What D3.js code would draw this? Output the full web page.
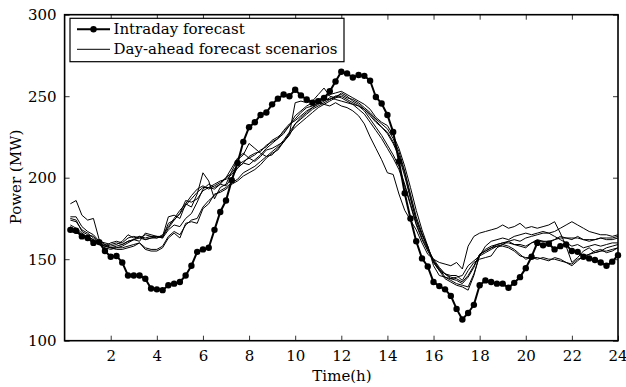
<!DOCTYPE html>
<html>
<head>
<meta charset="utf-8">
<script src="https://cdn.jsdelivr.net/npm/d3@7"></script>
<style>
  body { margin: 0; background: #fff; }
  svg text { font-family: "DejaVu Serif", serif; fill: #000; }
</style>
</head>
<body>
<svg id="s" width="626" height="387"></svg>
<script>
// Data
const hours = d3.range(1, 97).map(i => i / 4),
  xTicks = [2, 4, 6, 8, 10, 12, 14, 16, 18, 20, 22, 24],
  yTicks = [100, 150, 200, 250, 300],
  legendLabels = ["Intraday forecast", "Day-ahead forecast scenarios"];

const intraday = [
  168, 167.5, 164, 163, 160, 160.5, 155, 151.5,
  152, 148, 140, 140, 140, 138, 132, 131.5,
  131, 134, 135, 136, 140, 146, 154.5, 156,
  157, 168, 179, 186, 198.5, 209, 222, 231,
  234, 238.5, 240, 245, 248.5, 251, 250, 254,
  250.5, 248, 246, 247, 249, 253, 259, 265,
  264, 261.5, 263, 262.5, 259.5, 249.5, 245.5, 238.5,
  228, 210, 190.5, 175, 161, 150.5, 145.5, 136,
  133.5, 131.5, 127.5, 119.5, 113, 117, 122, 134,
  137, 136, 135, 135, 132.5, 135.5, 139, 144.5,
  151.5, 160, 158.5, 159.5, 156, 158, 159, 155,
  154.5, 151.5, 150.5, 149.5, 148, 146, 148.5, 152.5
];

const scenarioA = [
  184, 186, 177, 174, 175, 162, 159, 158,
  159, 161, 165, 163, 164, 162, 163, 163,
  164, 176, 177, 175, 184, 182, 190, 203,
  198, 187, 194, 196, 204, 211, 214, 221,
  218, 215, 213, 214, 218, 222, 226, 233,
  237, 240, 243, 246, 245, 244, 246, 244,
  243, 241, 238, 233, 225, 218, 211, 203,
  202, 190, 180, 174, 168, 160, 153, 150,
  148, 147, 146, 148, 144, 158, 164, 166,
  167, 168, 169, 171, 169, 170, 172, 169,
  170, 169, 170, 171, 173, 166, 158, 148,
  151, 155, 157, 154, 155, 157, 158, 159
];
const scenarioB = [
  176, 176, 170, 167, 165, 161, 160, 159,
  160, 159, 161, 162, 161, 166, 165, 164,
  163, 172, 174, 178, 186, 185, 187, 192,
  194, 193, 196, 200, 206, 212, 215, 212,
  210, 213, 217, 218, 220, 222, 227, 246,
  247, 246, 247, 251, 255, 250, 249, 252,
  250, 247, 245, 242, 238, 234, 231, 228,
  222, 214, 203, 188, 174, 165, 158, 148,
  143, 141, 140, 140, 137, 143, 148, 150,
  151, 152, 157, 159, 161, 162, 161, 163,
  164, 165, 166, 166, 167, 169, 171, 173,
  171, 169, 167, 166, 165, 165, 164, 165
];
const scenarioC = [
  175, 174, 167, 165, 164, 160, 158, 157,
  156, 156, 157, 158, 160, 156, 155, 155,
  157, 163, 166, 163, 172, 173, 172, 181,
  184, 190, 191, 193, 196, 198, 201, 203,
  205, 208, 212, 215, 217, 222, 227, 231,
  234, 237, 240, 243, 245, 247, 249, 250,
  248, 246, 244, 241, 236, 231, 226, 220,
  214, 207, 196, 184, 172, 163, 156, 150,
  145, 141, 138, 137, 135, 139, 145, 153,
  155, 157, 159, 160, 161, 159, 158, 157,
  160, 162, 161, 160, 162, 164, 163, 162,
  164, 162, 161, 162, 163, 162, 162, 163
];
const scenarioD = [
  171, 169, 166, 163, 161, 159, 157, 156,
  157, 158, 160, 162, 164, 163, 164, 163,
  165, 170, 175, 180, 184, 189, 193, 195,
  193, 195, 197, 200, 203, 208, 210, 212,
  214, 217, 219, 223, 225, 228, 232, 236,
  240, 243, 244, 246, 248, 248, 250, 251,
  249, 248, 246, 243, 240, 236, 233, 230,
  224, 216, 204, 190, 176, 166, 157, 148,
  143, 138, 136, 134, 133, 131, 140, 153,
  155, 157, 158, 159, 158, 156, 153, 150,
  151, 151, 150, 149, 151, 150, 148, 146,
  149, 152, 153, 155, 156, 154, 155, 157
];
const scenarioE = [
  167, 166, 165, 163, 162, 159, 158, 160,
  161, 160, 163, 164, 163, 165, 164, 164,
  163, 168, 171, 170, 175, 178, 185, 193,
  196, 194, 196, 195, 200, 206, 209, 208,
  211, 214, 218, 221, 224, 227, 232, 238,
  241, 244, 246, 248, 249, 251, 252, 253,
  251, 249, 247, 245, 242, 237, 234, 232,
  226, 218, 207, 194, 180, 168, 158, 146,
  140, 139, 138, 139, 140, 146, 149, 152,
  158, 161, 162, 163, 162, 164, 165, 166,
  165, 166, 167, 166, 164, 162, 160, 158,
  159, 157, 158, 159, 158, 159, 160, 160
];
const scenarioF = [
  170, 168, 165, 164, 162, 160, 158, 157,
  158, 159, 161, 162, 163, 162, 163, 164,
  164, 169, 174, 178, 183, 187, 191, 194,
  194, 196, 198, 199, 202, 206, 209, 213,
  215, 216, 220, 222, 224, 229, 233, 235,
  238, 241, 243, 245, 247, 249, 248, 247,
  246, 245, 244, 242, 239, 235, 231, 227,
  221, 213, 201, 187, 174, 165, 157, 149,
  144, 139, 137, 135, 134, 133, 141, 152,
  154, 156, 158, 158, 157, 155, 152, 151,
  151, 150, 151, 150, 150, 149, 148, 147,
  150, 151, 153, 154, 155, 155, 156, 157
];
const scenarioG = [
  174, 173, 168, 166, 163, 160, 159, 157,
  157, 157, 158, 159, 160, 157, 156, 156,
  158, 164, 167, 165, 171, 174, 175, 182,
  186, 189, 192, 194, 197, 199, 203, 205,
  207, 210, 213, 216, 219, 223, 228, 233,
  236, 239, 242, 244, 246, 248, 250, 249,
  247, 245, 242, 239, 234, 229, 224, 218,
  212, 205, 195, 183, 171, 162, 155, 149,
  144, 141, 139, 138, 136, 140, 146, 153,
  156, 158, 159, 160, 160, 159, 159, 158,
  160, 161, 161, 161, 162, 163, 163, 163,
  163, 162, 162, 162, 163, 163, 163, 164
];
const scenarios = [scenarioA, scenarioB, scenarioC, scenarioD, scenarioE, scenarioF, scenarioG];

// Layout
const svg = d3.select("#s"),
  m = {l: 64.6, r: 618, t: 14.7, b: 340.7},
  x = d3.scaleLinear().domain([0, 24]).range([m.l, m.r]),
  y = d3.scaleLinear().domain([100, 300]).range([m.b, m.t]),
  line = d3.line().x((d, i) => x(hours[i])).y(d => y(d));

// scenarios
svg.append("g").selectAll("path").data(scenarios).join("path")
  .attr("d", line)
  .attr("fill", "none")
  .attr("stroke", "#000")
  .attr("stroke-width", 1)
  .attr("stroke-linejoin", "round");

// intraday
svg.append("path").datum(intraday)
  .attr("d", line)
  .attr("fill", "none")
  .attr("stroke", "#000")
  .attr("stroke-width", 2);
svg.append("g").selectAll("circle").data(intraday).join("circle")
  .attr("cx", (d, i) => x(hours[i]))
  .attr("cy", d => y(d))
  .attr("r", 3.2)
  .attr("fill", "#000");

// axes (ticks inside, mirrored)
const tick = 5;
const gx = svg.append("g").attr("transform", `translate(0,${m.b})`)
  .call(d3.axisBottom(x).tickValues(xTicks).tickSizeInner(-tick).tickSizeOuter(0).tickPadding(10));
const gxt = svg.append("g").attr("transform", `translate(0,${m.t})`)
  .call(d3.axisTop(x).tickValues(xTicks).tickSizeInner(-tick).tickSizeOuter(0).tickFormat(""));
const gy = svg.append("g").attr("transform", `translate(${m.l},0)`)
  .call(d3.axisLeft(y).tickValues(yTicks).tickSizeInner(-tick).tickSizeOuter(0).tickPadding(8));
const gyr = svg.append("g").attr("transform", `translate(${m.r},0)`)
  .call(d3.axisRight(y).tickValues(yTicks).tickSizeInner(-tick).tickSizeOuter(0).tickFormat(""));
[gx, gxt, gy, gyr].forEach(g => {
  g.select(".domain").remove();
  g.selectAll("line").attr("stroke", "#000").attr("stroke-width", 0.8);
  g.selectAll("text").style("font-size", "15px").attr("fill", "#000");
});
// keep the last x label inside the window
gx.selectAll("text").filter(d => d === 24).attr("text-anchor", "end").attr("dx", "9");

svg.append("rect")
  .attr("x", m.l).attr("y", m.t)
  .attr("width", m.r - m.l).attr("height", m.b - m.t)
  .attr("fill", "none").attr("stroke", "#000").attr("stroke-width", 1.6);

// axis labels
svg.append("text").attr("x", 342).attr("y", 381)
  .attr("text-anchor", "middle").style("font-size", "15px").text("Time(h)");
svg.append("text").attr("transform", "translate(21,177) rotate(-90)")
  .attr("text-anchor", "middle").style("font-size", "15px").text("Power (MW)");

// legend
const lg = svg.append("g");
lg.append("rect").attr("x", 70).attr("y", 18.3).attr("width", 274).attr("height", 43.4)
  .attr("fill", "#fff").attr("stroke", "#000").attr("stroke-width", 1.2);
lg.append("line").attr("x1", 77).attr("x2", 110).attr("y1", 29.3).attr("y2", 29.3)
  .attr("stroke", "#000").attr("stroke-width", 2);
lg.append("circle").attr("cx", 93.5).attr("cy", 29.3).attr("r", 3.2).attr("fill", "#000");
lg.append("line").attr("x1", 77).attr("x2", 110).attr("y1", 49.3).attr("y2", 49.3)
  .attr("stroke", "#000").attr("stroke-width", 1);
lg.selectAll("text.l").data(legendLabels).join("text")
  .attr("class", "l")
  .attr("x", 113.5).attr("y", (d, i) => 29.3 + i * 20 + 5)
  .style("font-size", "15px")
  .text(d => d);
</script>
</body>
</html>
